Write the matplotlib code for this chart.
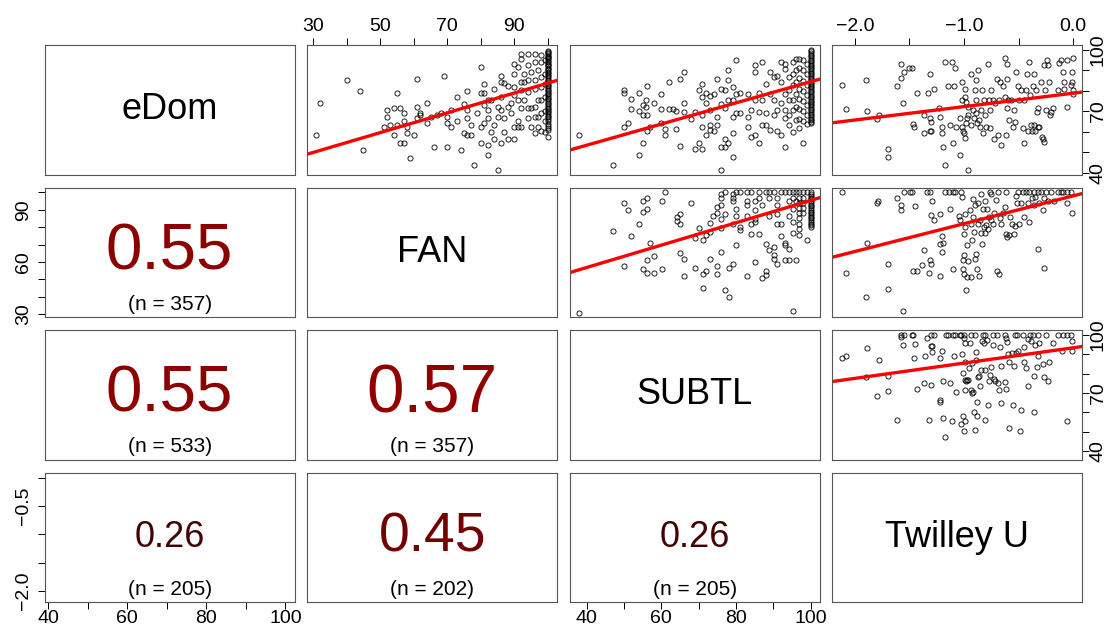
import numpy as np
import matplotlib.pyplot as plt

plt.rcParams["font.family"] = ["Liberation Sans", "DejaVu Sans"]

# Variables, their ranges and axis ticks

names = ["eDom", "FAN", "SUBTL", "Twilley U"]
ranges = [(41.4, 100.0), (31.0, 100.0), (38.0, 100.0), (-2.12, 0.0)]
ticks = [
    [40, 50, 60, 70, 80, 90, 100],
    [30, 40, 50, 60, 70, 80, 90, 100],
    [40, 50, 60, 70, 80, 90, 100],
    [-2.0, -1.5, -1.0, -0.5, 0.0],
]
top_labels = {1: [30, 50, 70, 90], 3: [-2.0, -1.0, 0.0]}
bottom_labels = {0: [40, 60, 80, 100], 2: [40, 60, 80, 100]}
left_labels = {1: [30, 60, 90], 3: [-2.0, -0.5]}
right_labels = {0: [40, 70, 100], 2: [40, 70, 100]}

# Correlations shown in the lower panels

cor_cells = [(1, 0), (2, 0), (2, 1), (3, 0), (3, 1), (3, 2)]
cor_r = [0.55, 0.55, 0.57, 0.26, 0.45, 0.26]
cor_n = [357, 533, 357, 205, 202, 205]

# Fitted lines (intercept, slope)

fit_edom_fan = (35.35, 0.484)
fit_edom_subtl = (32.7, 0.517)
fit_edom_twil = (78.8, 6.55)
fit_fan_subtl = (31.07, 0.643)
fit_fan_twil = (98.0, 16.0)
fit_subtl_twil = (93.4, 7.91)

# Scatter points (x, y)

edom_fan = [
    (31, 58.4), (32, 74.1), (40, 85.1), (44, 80.1), (45, 51.3), (51, 62.3), (52, 70.6), (52, 67.3),
    (53, 63.3), (54, 71.4), (54, 58.4), (55, 79.1), (55, 63.3), (56, 71.4), (56, 54.4), (57, 69.3),
    (57, 54.4), (57, 65.4), (58, 62.1), (58, 59.2), (59, 47.4), (60, 58.4), (61, 72.2), (61, 85.9),
    (61, 66.5), (62, 68.9), (62, 68.1), (64, 74.1), (64, 64.1), (65, 67.3), (66, 52.3), (67, 68.1),
    (68, 69.3), (69, 87.1), (70, 52.4), (70, 67.3), (70, 64.4), (71, 62.5), (71, 70.6), (73, 77.0),
    (73, 65.4), (74, 51.3), (75, 73.5), (75, 59.2), (76, 79.9), (76, 70.6), (76, 66.5), (76, 58.4),
    (77, 58.4), (77, 63.3), (78, 43.5), (79, 68.9), (80, 91.6), (80, 79.0), (80, 62.5), (80, 54.4),
    (81, 79.0), (81, 83.2), (81, 73.0), (81, 64.1), (82, 75.4), (82, 70.6), (82, 66.5), (82, 53.4),
    (82, 48.4), (83, 75.4), (83, 60.0), (84, 81.1), (84, 63.3), (84, 56.3), (85, 41.4), (85, 67.3),
    (85, 72.2), (86, 87.1), (86, 84.3), (86, 77.0), (86, 70.6), (86, 54.4), (87, 83.8), (87, 66.5),
    (87, 60.0), (88, 82.2), (88, 72.2), (88, 56.3), (89, 74.1), (89, 68.9), (90, 93.2), (90, 88.3),
    (90, 81.9), (90, 77.8), (90, 62.5), (90, 56.3), (91, 91.6), (91, 75.4), (91, 65.4), (91, 62.5),
    (92, 98.1), (92, 95.6), (92, 84.3), (92, 80.3), (92, 71.4), (92, 62.5), (93, 88.3), (93, 84.3),
    (93, 75.4), (94, 98.1), (94, 92.4), (94, 85.1), (94, 79.4), (94, 71.4), (94, 66.5), (95, 89.2),
    (95, 71.4), (95, 62.5), (96, 98.1), (96, 94.0), (96, 85.1), (96, 81.1), (96, 72.2), (96, 67.3),
    (96, 59.2), (97, 90.0), (97, 75.4), (97, 67.3), (97, 62.5), (98, 97.5), (98, 94.0), (98, 86.5),
    (98, 82.0), (98, 75.4), (98, 69.0), (98, 60.5), (99, 95.0), (99, 88.3), (99, 83.5), (99, 77.0),
    (99, 70.0), (99, 65.0), (99, 60.0),
]
edom_at_fan100 = [
    99.5, 99.0, 98.4, 97.8, 97.2, 96.6, 96.0, 95.3, 94.6, 94.0, 93.3, 92.6, 92.0, 91.3, 90.6, 90.0,
    89.2, 88.5, 87.7, 87.0, 86.2, 85.4, 84.6, 83.8, 83.0, 82.2, 81.4, 80.6, 79.8, 79.0, 78.2, 77.4,
    76.6, 75.8, 75.0, 74.2, 73.4, 72.6, 71.8, 71.0, 70.2, 69.4, 68.6, 67.8, 67.0, 66.0, 65.0, 64.0,
    63.0, 62.0, 61.0, 57.6,
]

edom_subtl = [
    (38.0, 58.4), (47.0, 43.5), (50.1, 80.3), (50.1, 79.0), (50.1, 62.3), (51.1, 64.4), (52.0, 76.1),
    (52.0, 71.2), (54.1, 79.1), (54.1, 70.2), (54.1, 48.4), (55.0, 73.0), (55.0, 68.1), (55.0, 54.4),
    (55.9, 72.2), (55.9, 75.4), (56.1, 82.2), (56.1, 68.1), (56.1, 60.5), (57.0, 62.1), (58.0, 74.1),
    (59.9, 71.2), (59.9, 78.2), (59.9, 64.4), (61.0, 61.2), (61.0, 58.4), (62.1, 84.1), (62.1, 71.2),
    (63.1, 71.2), (64.0, 70.2), (64.0, 61.3), (65.0, 85.9), (65.0, 53.2), (66.1, 89.2), (66.1, 74.1),
    (66.1, 69.7), (68.1, 66.2), (69.0, 69.4), (69.0, 51.5), (70.0, 80.3), (70.0, 54.4), (71.0, 83.2),
    (71.0, 77.0), (71.0, 68.1), (71.0, 62.5), (71.0, 51.5), (72.0, 79.0), (72.0, 73.8), (72.0, 58.4),
    (73.0, 77.3), (73.0, 70.6), (73.0, 63.3), (73.0, 60.8), (74.1, 78.6), (74.1, 60.5), (75.0, 85.9),
    (75.0, 67.3), (75.0, 63.3), (76.0, 81.1), (76.0, 73.3), (76.0, 52.3), (76.0, 41.4), (77.0, 80.3),
    (77.0, 71.4), (77.0, 56.3), (77.0, 52.3), (78.0, 90.0), (78.0, 85.1), (78.0, 75.4), (78.0, 54.4),
    (79.1, 81.9), (79.1, 75.4), (79.1, 67.3), (79.1, 59.2), (79.1, 47.6), (80.0, 94.8), (80.0, 78.2),
    (80.0, 69.3), (81.1, 79.0), (81.1, 69.3), (83.2, 78.6), (83.2, 67.3), (83.2, 62.3), (84.1, 70.6),
    (84.1, 57.6), (85.1, 92.4), (85.1, 89.2), (85.1, 75.4), (85.1, 58.4), (86.1, 79.0), (86.1, 69.7),
    (86.1, 54.4), (87.0, 94.0), (87.0, 75.4), (87.0, 63.3), (88.1, 83.2), (88.1, 68.9), (88.1, 63.3),
    (89.2, 89.2), (89.2, 78.6), (89.2, 60.8), (90.1, 86.7), (90.1, 75.4), (90.1, 68.1), (91.1, 87.1),
    (91.1, 70.6), (91.1, 60.4), (92.1, 94.0), (92.1, 84.3), (92.1, 73.8), (92.1, 58.4), (93.2, 93.2),
    (93.2, 90.8), (93.2, 78.6), (93.2, 70.6), (93.2, 66.5), (93.2, 52.3), (94.2, 86.7), (94.2, 80.3),
    (94.2, 75.4), (94.2, 68.1), (94.2, 63.3), (95.2, 94.0), (95.2, 88.3), (95.2, 82.7), (95.2, 75.4),
    (95.2, 70.6), (95.2, 60.0), (96.1, 95.6), (96.1, 90.0), (96.1, 84.3), (96.1, 78.6), (96.1, 72.2),
    (96.1, 65.7), (97.0, 95.6), (97.0, 91.0), (97.0, 86.0), (97.0, 81.0), (97.0, 76.0), (97.0, 71.0),
    (97.0, 66.0), (97.0, 62.0), (98.1, 95.0), (98.1, 90.0), (98.1, 85.0), (98.1, 80.0), (98.1, 75.0),
    (98.1, 70.0), (98.1, 65.0), (98.1, 54.4), (99.1, 93.0), (99.1, 88.0), (99.1, 83.0), (99.1, 78.0),
    (99.1, 73.0), (99.1, 68.0), (99.1, 64.0),
]
edom_at_subtl100 = [
    100.0, 99.2, 98.4, 97.6, 96.8, 96.0, 95.2, 94.4, 93.6, 92.8, 92.0, 91.2, 90.4, 89.6, 88.8, 88.0,
    87.2, 86.4, 85.6, 84.8, 84.0, 83.2, 82.4, 81.6, 80.8, 80.0, 79.2, 78.4, 77.6, 76.8, 76.0, 75.2,
    74.4, 73.6, 72.8, 72.0, 71.2, 70.4, 69.6, 68.8, 68.0, 67.2, 66.4, 65.6, 64.8, 64.1,
]

edom_twil = [
    (-2.115, 83.0), (-2.08, 71.2), (-1.90, 85.1), (-1.89, 70.2), (-1.80, 66.2), (-1.78, 68.3),
    (-1.70, 51.5), (-1.70, 47.6), (-1.61, 82.2), (-1.58, 93.2), (-1.58, 86.1), (-1.56, 74.1),
    (-1.55, 89.0), (-1.50, 91.1), (-1.48, 91.1), (-1.47, 63.6), (-1.46, 62.3), (-1.43, 79.1),
    (-1.37, 59.2), (-1.37, 68.1), (-1.33, 79.1), (-1.31, 88.0), (-1.31, 66.5), (-1.31, 60.4),
    (-1.30, 60.4), (-1.30, 64.6), (-1.27, 81.1), (-1.23, 71.8), (-1.22, 67.3), (-1.20, 59.2),
    (-1.20, 62.3), (-1.19, 52.4), (-1.17, 43.5), (-1.17, 94.0), (-1.11, 94.0), (-1.15, 82.2),
    (-1.13, 63.3), (-1.10, 54.4), (-1.09, 82.2), (-1.08, 91.1), (-1.07, 62.5), (-1.04, 66.5),
    (-1.04, 48.5), (-1.02, 75.4), (-1.02, 84.3), (-1.017, 62.5), (-1.008, 60.5), (-0.998, 59.2),
    (-0.986, 56.8), (-0.977, 64.1), (-0.968, 66.5), (-0.962, 41.4), (-0.992, 81.1), (-0.992, 77.0),
    (-0.977, 74.6), (-0.962, 72.2), (-0.962, 68.1), (-0.938, 63.3), (-0.932, 88.0), (-0.917, 70.6),
    (-0.907, 66.5), (-0.901, 80.3), (-0.886, 85.1), (-0.886, 75.4), (-0.886, 68.9), (-0.877, 64.4),
    (-0.871, 90.0), (-0.865, 65.7), (-0.856, 62.5), (-0.841, 70.6), (-0.835, 80.3), (-0.825, 59.2),
    (-0.816, 75.4), (-0.810, 68.1), (-0.795, 62.5), (-0.780, 93.2), (-0.774, 75.4), (-0.765, 70.6),
    (-0.765, 61.7), (-0.750, 80.3), (-0.734, 75.4), (-0.725, 56.3), (-0.713, 73.8), (-0.695, 85.9),
    (-0.689, 58.4), (-0.683, 75.4), (-0.674, 84.3), (-0.659, 53.4), (-0.643, 82.2), (-0.628, 77.0),
    (-0.622, 96.1), (-0.613, 58.4), (-0.604, 85.9), (-0.604, 93.2), (-0.604, 71.8), (-0.598, 75.4),
    (-0.592, 65.7), (-0.568, 75.4), (-0.552, 62.5), (-0.543, 70.6), (-0.531, 64.9), (-0.522, 89.2),
    (-0.507, 82.2), (-0.492, 75.4), (-0.476, 80.3), (-0.461, 61.7), (-0.452, 54.4), (-0.446, 75.4),
    (-0.431, 80.3), (-0.422, 88.0), (-0.416, 60.4), (-0.401, 94.0), (-0.395, 77.8), (-0.385, 63.3),
    (-0.379, 60.4), (-0.370, 82.2), (-0.361, 88.0), (-0.355, 63.3), (-0.349, 60.4), (-0.340, 80.3),
    (-0.331, 69.7), (-0.325, 62.5), (-0.319, 71.8), (-0.310, 62.5), (-0.294, 84.3), (-0.288, 57.6),
    (-0.276, 56.3), (-0.270, 55.2), (-0.264, 92.4), (-0.258, 80.3), (-0.249, 70.6), (-0.240, 95.1),
    (-0.228, 92.4), (-0.219, 84.3), (-0.209, 68.1), (-0.203, 69.7), (-0.188, 71.8), (-0.143, 80.3),
    (-0.127, 93.5), (-0.112, 95.1), (-0.097, 89.2), (-0.088, 84.3), (-0.082, 81.1), (-0.058, 72.2),
    (-0.052, 95.1), (-0.021, 82.7), (-0.012, 89.2), (-0.006, 84.3), (-0.003, 80.3), (0.0, 78.3),
    (0.0, 96.1),
]

fan_subtl = [
    (38.0, 30.7), (47.0, 77.7), (50.1, 93.8), (51.1, 89.6), (52.0, 74.7), (50.1, 57.9), (54.1, 81.9),
    (55.0, 94.9), (55.0, 88.6), (56.1, 96.9), (56.1, 90.6), (56.1, 60.9), (56.1, 53.6), (55.2, 55.7),
    (57.0, 70.8), (58.0, 63.7), (58.0, 53.6), (60.1, 94.9), (60.1, 55.7), (61.1, 100.0), (64.1, 86.1),
    (64.1, 83.8), (65.0, 87.7), (65.0, 81.9), (65.0, 65.1), (66.1, 61.9), (66.1, 51.7), (68.1, 93.8),
    (69.0, 56.7), (70.0, 79.6), (69.0, 73.7), (71.1, 72.8), (71.1, 52.9), (71.1, 45.0), (72.0, 75.7),
    (72.0, 54.8), (73.1, 82.3), (73.1, 77.2), (73.1, 61.9), (74.0, 86.7), (75.0, 91.5), (75.0, 57.5),
    (75.0, 53.3), (75.0, 88.1), (76.1, 98.8), (76.1, 96.9), (76.1, 92.5), (76.1, 84.8), (76.1, 79.7),
    (76.1, 65.7), (77.1, 87.7), (77.1, 44.1), (78.1, 39.9), (78.1, 56.7), (79.1, 99.2), (79.1, 96.9),
    (79.1, 94.9), (79.1, 82.0), (79.1, 59.0), (80.0, 90.6), (80.0, 86.7), (80.0, 69.9), (81.1, 80.0),
    (81.1, 78.5), (83.1, 100.0), (83.1, 94.9), (83.1, 92.5), (83.1, 86.2), (83.1, 51.7), (84.1, 100.0),
    (84.1, 82.0), (84.1, 75.8), (85.2, 94.9), (85.2, 90.0), (85.2, 84.8), (85.2, 82.9), (85.2, 60.0),
    (86.2, 100.0), (86.2, 96.9), (86.2, 75.8), (87.0, 92.5), (87.0, 50.8), (88.1, 100.0), (88.1, 70.1),
    (88.1, 54.8), (88.1, 52.3), (89.0, 100.0), (89.0, 96.9), (89.0, 86.7), (89.0, 66.7), (90.1, 68.6),
    (90.1, 63.8), (90.1, 61.9), (91.1, 96.9), (91.1, 92.5), (91.1, 87.7), (91.1, 82.0), (91.1, 58.6),
    (92.1, 100.0), (92.1, 82.0), (92.1, 74.7), (93.2, 70.9), (93.2, 69.5), (93.2, 60.9), (94.2, 100.0),
    (94.2, 94.9), (94.2, 86.7), (94.2, 67.6), (94.2, 60.9), (95.2, 100.0), (95.2, 96.9), (95.2, 90.6),
    (95.2, 82.9), (95.2, 76.6), (95.2, 31.9), (96.0, 100.0), (96.0, 94.9), (96.0, 60.9), (97.0, 100.0),
    (97.0, 97.0), (97.0, 94.0), (97.0, 91.0), (97.0, 88.0), (97.0, 85.0), (97.0, 82.0), (97.0, 79.0),
    (97.0, 75.3), (98.1, 100.0), (98.1, 97.0), (98.1, 94.0), (98.1, 91.0), (98.1, 88.0), (99.1, 72.8),
    (77.1, 100.0), (80.0, 100.0), (81.1, 100.0), (90.1, 100.0), (93.2, 100.0), (99.1, 100.0),
]
fan_at_subtl100 = [
    100.0, 99.0, 98.0, 97.0, 96.0, 95.0, 94.0, 93.0, 92.0, 91.0, 90.0, 89.0, 88.0, 87.0, 86.0, 85.0,
    84.0, 83.0, 82.0, 81.0, 80.0,
]

fan_twil = [
    (-2.115, 100.0), (-2.08, 53.8), (-1.90, 39.9), (-1.89, 70.9), (-1.80, 93.8), (-1.79, 94.9),
    (-1.70, 59.0), (-1.70, 44.6), (-1.61, 96.9), (-1.58, 92.8), (-1.58, 90.0), (-1.56, 31.9),
    (-1.55, 100.0), (-1.49, 100.0), (-1.48, 100.0), (-1.47, 54.8), (-1.43, 54.8), (-1.45, 92.0),
    (-1.37, 66.7), (-1.38, 58.0), (-1.34, 100.0), (-1.31, 100.0), (-1.32, 53.7), (-1.31, 60.9),
    (-1.30, 59.0), (-1.30, 87.1), (-1.29, 94.9), (-1.27, 83.9), (-1.22, 51.7), (-1.22, 87.7),
    (-1.22, 70.1), (-1.20, 74.7), (-1.19, 70.9), (-1.20, 66.0), (-1.17, 100.0), (-1.14, 100.0),
    (-1.10, 100.0), (-1.08, 100.0), (-1.13, 90.6), (-1.10, 55.8), (-1.044, 86.7), (-1.032, 83.9),
    (-1.023, 100.0), (-1.017, 97.6), (-1.008, 56.1), (-1.008, 60.9), (-0.998, 63.8), (-0.998, 52.9),
    (-0.998, 76.2), (-0.992, 87.7), (-0.992, 80.0), (-0.977, 43.7), (-0.968, 69.5), (-0.968, 51.4),
    (-0.962, 60.3), (-0.947, 89.6), (-0.932, 82.0), (-0.932, 51.4), (-0.923, 72.8), (-0.917, 96.3),
    (-0.917, 85.8), (-0.907, 77.2), (-0.901, 61.5), (-0.895, 92.8), (-0.886, 64.4), (-0.877, 56.1),
    (-0.871, 93.8), (-0.871, 82.0), (-0.865, 51.7), (-0.856, 83.9), (-0.847, 76.8), (-0.841, 98.8),
    (-0.835, 70.1), (-0.825, 90.6), (-0.816, 80.0), (-0.810, 76.6), (-0.804, 95.3), (-0.795, 81.0),
    (-0.786, 90.6), (-0.780, 79.1), (-0.774, 85.8), (-0.765, 100.0), (-0.756, 99.2), (-0.750, 83.9),
    (-0.734, 82.0), (-0.725, 88.1), (-0.704, 95.7), (-0.695, 54.8), (-0.689, 100.0), (-0.683, 53.3),
    (-0.674, 85.4), (-0.659, 82.0), (-0.643, 88.1), (-0.628, 91.5), (-0.613, 76.2), (-0.613, 100.0),
    (-0.604, 74.3), (-0.583, 75.3), (-0.574, 85.8), (-0.561, 82.0), (-0.543, 76.2), (-0.537, 80.6),
    (-0.522, 98.2), (-0.513, 93.8), (-0.507, 100.0), (-0.492, 82.0), (-0.476, 93.8), (-0.461, 100.0),
    (-0.452, 85.8), (-0.431, 100.0), (-0.416, 93.8), (-0.401, 82.9), (-0.401, 100.0), (-0.379, 96.9),
    (-0.361, 92.5), (-0.355, 100.0), (-0.349, 97.6), (-0.325, 67.6), (-0.319, 100.0), (-0.310, 93.8),
    (-0.294, 100.0), (-0.279, 90.0), (-0.270, 56.7), (-0.264, 96.9), (-0.249, 100.0), (-0.228, 95.3),
    (-0.203, 100.0), (-0.173, 95.3), (-0.143, 100.0), (-0.112, 100.0), (-0.097, 100.0), (-0.058, 93.8),
    (-0.052, 100.0), (-0.021, 100.0), (-0.006, 88.1),
]

subtl_twil = [
    (-2.115, 88.0), (-2.08, 89.2), (-1.89, 93.1), (-1.90, 78.1), (-1.80, 68.3), (-1.78, 87.1),
    (-1.70, 78.9), (-1.70, 71.2), (-1.61, 56.3), (-1.58, 100.0), (-1.55, 100.0), (-1.48, 100.0),
    (-1.47, 100.0), (-1.58, 98.8), (-1.56, 94.9), (-1.45, 95.2), (-1.46, 88.0), (-1.43, 72.2),
    (-1.37, 75.1), (-1.36, 89.2), (-1.338, 98.3), (-1.323, 56.3), (-1.302, 74.3), (-1.302, 94.3),
    (-1.296, 91.1), (-1.290, 94.3), (-1.302, 100.0), (-1.272, 100.0), (-1.22, 66.2), (-1.22, 65.2),
    (-1.22, 88.0), (-1.199, 91.9), (-1.196, 76.3), (-1.196, 57.1), (-1.174, 47.2), (-1.168, 100.0),
    (-1.150, 100.0), (-1.129, 75.1), (-1.105, 55.4), (-1.099, 100.0), (-1.083, 100.0), (-1.074, 70.3),
    (-1.093, 89.2), (-1.038, 100.0), (-1.029, 54.2), (-1.023, 100.0), (-1.017, 90.2), (-1.008, 80.3),
    (-1.008, 58.0), (-0.998, 100.0), (-0.998, 98.3), (-0.998, 50.3), (-0.992, 76.9), (-0.992, 55.4),
    (-0.986, 85.8), (-0.986, 71.7), (-0.986, 96.1), (-0.977, 76.0), (-0.968, 76.9), (-0.962, 76.5),
    (-0.956, 83.2), (-0.947, 95.7), (-0.938, 100.0), (-0.932, 71.4), (-0.926, 70.0), (-0.923, 85.4),
    (-0.917, 70.3), (-0.907, 60.1), (-0.901, 100.0), (-0.895, 51.1), (-0.886, 91.1), (-0.886, 87.1),
    (-0.877, 65.2), (-0.877, 58.3), (-0.871, 78.2), (-0.865, 78.9), (-0.856, 73.4), (-0.847, 82.0),
    (-0.835, 97.1), (-0.825, 100.0), (-0.816, 95.7), (-0.810, 100.0), (-0.810, 82.0), (-0.804, 56.3),
    (-0.786, 97.4), (-0.780, 64.0), (-0.774, 76.0), (-0.765, 79.4), (-0.756, 83.4), (-0.734, 100.0),
    (-0.734, 94.9), (-0.725, 77.2), (-0.713, 76.0), (-0.695, 100.0), (-0.689, 75.1), (-0.683, 71.4),
    (-0.674, 94.0), (-0.665, 84.1), (-0.659, 64.9), (-0.628, 100.0), (-0.622, 75.5), (-0.613, 72.1),
    (-0.613, 98.3), (-0.604, 96.6), (-0.598, 90.2), (-0.592, 85.8), (-0.583, 52.0), (-0.561, 90.6),
    (-0.552, 64.0), (-0.543, 84.1), (-0.531, 100.0), (-0.522, 90.6), (-0.513, 100.0), (-0.501, 91.9),
    (-0.483, 50.3), (-0.476, 61.1), (-0.461, 100.0), (-0.452, 85.8), (-0.446, 94.0), (-0.431, 83.2),
    (-0.416, 97.8), (-0.410, 73.4), (-0.392, 100.0), (-0.385, 97.1), (-0.370, 100.0), (-0.361, 78.6),
    (-0.355, 60.1), (-0.349, 94.9), (-0.331, 83.7), (-0.325, 89.2), (-0.319, 100.0), (-0.310, 96.1),
    (-0.279, 85.1), (-0.264, 78.2), (-0.249, 100.0), (-0.228, 76.3), (-0.219, 85.8), (-0.188, 95.7),
    (-0.143, 100.0), (-0.106, 91.9), (-0.097, 100.0), (-0.058, 55.4), (-0.052, 100.0), (-0.021, 100.0),
    (-0.006, 91.9), (-0.006, 97.1),
]

# Assemble upper panels: (row, col) -> points, fit

upper = {
    (0, 1): (edom_fan + [(100.0, v) for v in edom_at_fan100], fit_edom_fan),
    (0, 2): (edom_subtl + [(100.0, v) for v in edom_at_subtl100], fit_edom_subtl),
    (0, 3): (edom_twil, fit_edom_twil),
    (1, 2): (fan_subtl + [(100.0, v) for v in fan_at_subtl100], fit_fan_subtl),
    (1, 3): (fan_twil, fit_fan_twil),
    (2, 3): (subtl_twil, fit_subtl_twil),
}

# Layout in pixels

W, H = 1106, 628
col_left = [44.6, 307.2, 569.8, 832.4]
row_top = [45.0, 187.6, 330.2, 472.8]
pw, ph = 250.0, 129.6

fig = plt.figure(figsize=(W / 100, H / 100), dpi=100)


def lims(i):
    lo, hi = ranges[i]
    pad = 0.04 * (hi - lo)
    return lo - pad, hi + pad


def fmt(v, i):
    if i == 3:
        return f"{v:.1f}".replace("-", "\u2212")
    return f"{int(v)}"


for r in range(4):
    for c in range(4):
        ax = fig.add_axes([col_left[c] / W, 1 - (row_top[r] + ph) / H, pw / W, ph / H])
        ax.set_xlim(*lims(c))
        ax.set_ylim(*lims(r))
        for s in ax.spines.values():
            s.set_color("#555555")
            s.set_linewidth(0.8)
        ax.tick_params(which="both", bottom=False, top=False, left=False, right=False,
                       labelbottom=False, labeltop=False, labelleft=False, labelright=False,
                       direction="out", length=4.7, width=0.7, labelsize=14)

        # x axis (top on row 0, bottom on row 3)
        if r == 0 and c in top_labels:
            ax.set_xticks(ticks[c])
            ax.set_xticklabels([fmt(v, c) if v in top_labels[c] else "" for v in ticks[c]])
            ax.tick_params(axis="x", top=True, labeltop=True, pad=2.5)
        elif r == 3 and c in bottom_labels:
            ax.set_xticks(ticks[c])
            ax.set_xticklabels([fmt(v, c) if v in bottom_labels[c] else "" for v in ticks[c]])
            ax.tick_params(axis="x", bottom=True, labelbottom=True, pad=0.5)
        else:
            ax.set_xticks([])

        # y axis (left on col 0, right on col 3)
        if c == 0 and r in left_labels:
            ax.set_yticks(ticks[r])
            ax.set_yticklabels([fmt(v, r) if v in left_labels[r] else "" for v in ticks[r]],
                               rotation=90, va="center")
            ax.tick_params(axis="y", left=True, labelleft=True, pad=4.4)
        elif c == 3 and r in right_labels:
            ax.set_yticks(ticks[r])
            ax.set_yticklabels([fmt(v, r) if v in right_labels[r] else "" for v in ticks[r]],
                               rotation=90, va="center")
            ax.tick_params(axis="y", right=True, labelright=True, pad=0.5)
        else:
            ax.set_yticks([])

        if r == c:
            ax.text(0.5, 0.5, names[r], transform=ax.transAxes, ha="center", va="center",
                    fontsize=26)
        elif (r, c) in upper:
            pts, (a, b) = upper[(r, c)]
            xy = np.array(pts)
            ax.plot(xy[:, 0], xy[:, 1], "o", mfc="none", mec="black", ms=3.7, mew=0.6)
            xs = np.array(ax.get_xlim())
            ax.plot(xs, a + b * xs, color="red", lw=2.4)
        else:
            k = cor_cells.index((r, c))
            rv = cor_r[k]
            ax.text(0.5, 0.5, f"{rv:.2f}", transform=ax.transAxes, ha="center", va="center",
                    fontsize=7 + 73 * rv, color=(rv, 0, 0))
            ax.text(0.5, 0.1, f"(n = {cor_n[k]})", transform=ax.transAxes, ha="center",
                    va="center", fontsize=15)

fig.savefig("out.png", dpi=100)
